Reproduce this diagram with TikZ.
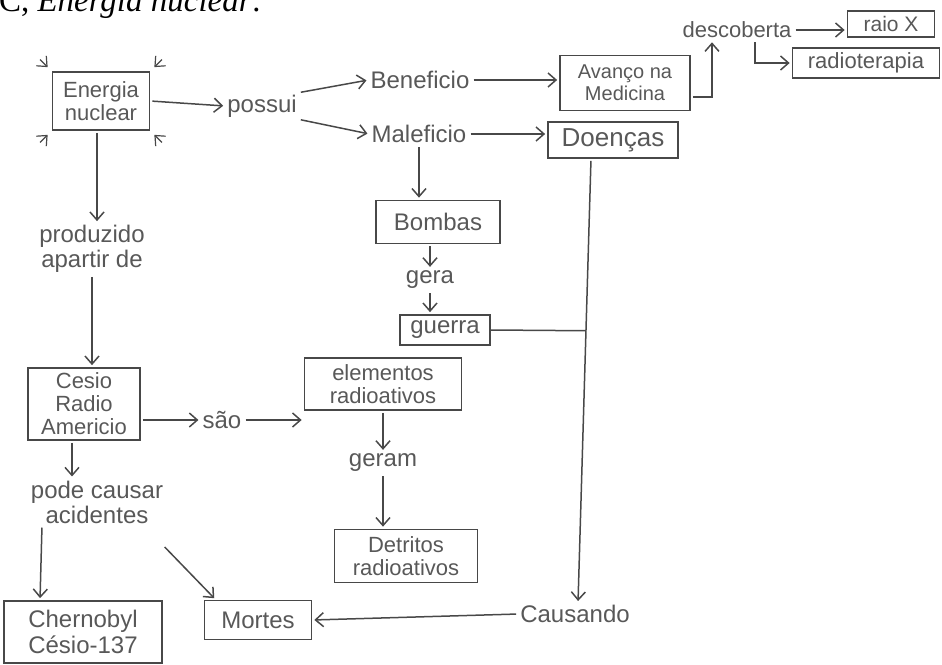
\documentclass[tikz,border=0pt]{standalone}
\usepackage{fontspec}
\setmainfont{Liberation Sans}
\newfontfamily\capfont{Liberation Serif}
\usetikzlibrary{arrows.meta,positioning,calc}
\definecolor{pen}{HTML}{484848}
\definecolor{ink}{HTML}{585858}

\begin{document}
\begin{tikzpicture}[
  x=1pt, y=-1pt,
  font=\fontsize{24}{25}\selectfont,
  box/.style={rectangle, draw=pen, line width=1.7pt, text=ink, align=center, inner sep=1pt, font=\fontsize{22}{23}\selectfont},
  word/.style={text=ink, align=center, inner sep=2pt},
  link/.style={draw=pen, line width=1.5pt, shorten >=2pt, shorten <=2pt, -{Straight Barb[length=8pt,width=14pt]}},
  plain/.style={draw=pen, line width=1.5pt}
]
  \useasboundingbox (0,0) rectangle (942,664);
  \clip (0,0) rectangle (942,664);

  % caption cut off at the top of the page
  \node[anchor=base west, inner sep=0pt, font=\capfont\fontsize{33}{36}\selectfont] (caption) at (-25,11) {AC, \textit{Energia nuclear}:};

  % concepts
  \node[box, minimum width=97pt, minimum height=58pt] (energia) at (101,101) {Energia\\nuclear};
  \node[box, minimum width=130pt, minimum height=55pt, font=\fontsize{20}{22}\selectfont] (avanco) at (625,83) {Avanço na\\Medicina};
  \node[box, minimum width=130pt, minimum height=36pt, font=\fontsize{26}{28}\selectfont] (doencas) at (613,140) {Doenças};
  \node[box, minimum width=87pt, minimum height=26pt, font=\fontsize{21}{22}\selectfont] (raiox) at (891,24) {raio X};
  \node[box, minimum width=147pt, minimum height=30pt] (radio) at (866,63) {radioterapia};
  \node[box, minimum width=124pt, minimum height=43pt, font=\fontsize{24}{25}\selectfont] (bombas) at (438,222) {Bombas};
  \node[box, minimum width=90pt, minimum height=30pt, font=\fontsize{24}{25}\selectfont] (guerra) at (445,330) {guerra};
  \node[box, minimum width=157pt, minimum height=52pt] (elementos) at (383,384) {elementos\\radioativos};
  \node[box, minimum width=143pt, minimum height=53pt] (detritos) at (406,556) {Detritos\\radioativos};
  \node[box, minimum width=112pt, minimum height=72pt] (cesio) at (84,404) {Cesio\\Radio\\Americio};
  \node[box, minimum width=158pt, minimum height=62pt, font=\fontsize{24}{26}\selectfont] (chern) at (83,632) {Chernobyl\\Césio-137};
  \node[box, minimum width=107pt, minimum height=39pt, font=\fontsize{24}{25}\selectfont] (mortes) at (258,620) {Mortes};

  % linking words
  \node[word] (possui) at (262,106) {possui};
  \node[word] (benef) at (420,80) {Beneficio};
  \node[word] (malef) at (419,134) {Maleficio};
  \node[word, font=\fontsize{22}{23}\selectfont] (descoberta) at (737,30) {descoberta};
  \node[word] (gera) at (430,280) {gera};
  \node[word] (produzido) at (92,249) {produzido\\apartir de};
  \node[word] (sao) at (222,420) {são};
  \node[word] (geram) at (383,463) {geram};
  \node[word] (pode) at (97,502) {pode causar\\acidentes};
  \node[word] (causando) at (575,614) {Causando};

  % marks round the main concept
  \foreach \a/\dx/\dy in {north west/-1/-1, north east/1/-1, south west/-1/1, south east/1/1}
    \draw[link, line width=1.2pt, shorten >=0pt] ([shift={({\dx*13},{\dy*13})}]energia.\a) -- ([shift={({\dx*4},{\dy*4})}]energia.\a);

  % top branch
  \draw[link] (energia.east) -- (possui.west);
  \draw[link] (possui.north east) -- (benef.west);
  \draw[link] (possui.south east) -- (malef.west);
  \draw[link] (benef.east) -- (benef.east -| avanco.west);
  \draw[link] (malef.east) -- (malef.east -| doencas.west);
  \draw[link] ([yshift=-14pt]avanco.east) -| ([xshift=-25pt]descoberta.south);
  \draw[link] (descoberta.east) -- (descoberta.east -| raiox.west);
  \draw[link] ([xshift=18pt]descoberta.south) |- (radio.west);

  % middle branch
  \draw[link] (malef.south) -- (malef.south |- bombas.north);
  \draw[link] (gera.north |- bombas.south) -- (gera.north);
  \draw[link] (gera.south) -- (gera.south |- guerra.north);
  \draw[link] ([xshift=-22pt]doencas.south) -- coordinate[pos=0.387] (join) ([xshift=3pt]causando.north);
  \draw[plain] (guerra.east) -- (join);
  \draw[link] (causando.west) -- (mortes.east);

  % left branch
  \draw[link] ([xshift=-4pt]energia.south) -- ([xshift=-4pt]energia.south |- produzido.north);
  \draw[link] (produzido.south) -- (produzido.south |- cesio.north);
  \draw[link] ([yshift=-16pt]cesio.east) -- (sao.west);
  \draw[link] (sao.east) -- (sao.east -| elementos.west);
  \draw[link] (elementos.south) -- (geram.north);
  \draw[link] (geram.south) -- (geram.south |- detritos.north);
  \draw[link] ([xshift=-12pt]cesio.south) -- ([xshift=-12pt]cesio.south |- pode.north);
  \draw[link] ([xshift=-55pt]pode.south) -- ([xshift=-43pt]chern.north);
  \draw[link] ([shift={(-2,20)}]pode.south east) -- ([xshift=12pt]mortes.north west);
\end{tikzpicture}
\end{document}
